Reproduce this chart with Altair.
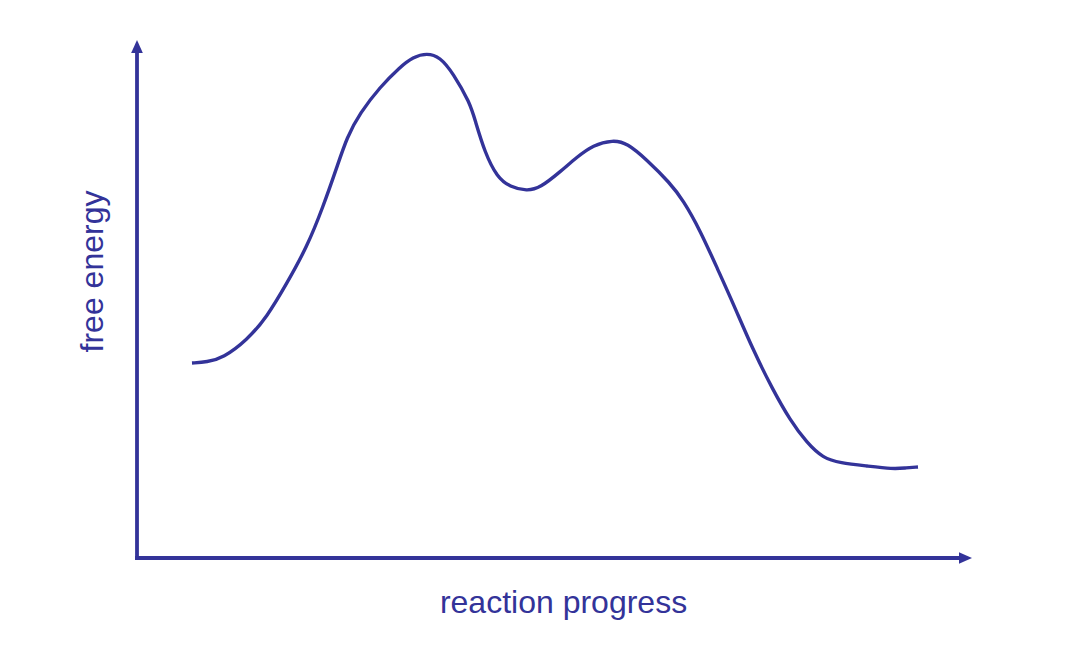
import altair as alt
import pandas as pd

# Curve (units: progress along x, energy along y)
progress = [55, 70, 86, 110, 130, 150, 170, 186, 200, 210, 223, 243, 263, 276, 290, 303, 316,
            333, 338, 348, 360, 373, 390, 403, 423, 440, 456, 476, 490, 510, 533, 546,
            563, 581, 596, 616, 636, 653, 670, 686, 703, 730, 756, 768, 781]
energy = [195, 196, 200, 218, 241, 275, 311, 351, 391, 421, 445, 471, 491, 501, 505, 501, 485,
          455, 438, 405, 381, 371, 367, 370, 386, 401, 413, 418, 415, 398, 375, 358,
          328, 288, 255, 208, 168, 138, 115, 100, 95, 92, 89, 90, 91]

x_label = "reaction progress"
y_label = "free energy"

X_MAX = 835
Y_MAX = 518
COLOR = "#333399"
FONT = "Liberation Sans"

curve = pd.DataFrame({"progress": progress, "energy": energy})
xs = alt.Scale(domain=[0, X_MAX], nice=False, zero=False)
ys = alt.Scale(domain=[0, Y_MAX], nice=False, zero=False)

line = alt.Chart(curve).mark_line(
    color=COLOR, strokeWidth=3.4, interpolate="basis"
).encode(
    x=alt.X("progress:Q", scale=xs, axis=None),
    y=alt.Y("energy:Q", scale=ys, axis=None),
)

axes_df = pd.DataFrame({
    "x": [0, 0], "y": [0, 0], "x2": [0, X_MAX - 12], "y2": [Y_MAX - 13, 0]
})
axes = alt.Chart(axes_df).mark_rule(color=COLOR, strokeWidth=3.8, strokeCap="square").encode(
    x=alt.X("x:Q", scale=xs, axis=None),
    y=alt.Y("y:Q", scale=ys, axis=None),
    x2="x2:Q",
    y2="y2:Q",
)

up_df = pd.DataFrame({"x": [0], "y": [Y_MAX - 6.5]})
right_df = pd.DataFrame({"x": [X_MAX - 6.5], "y": [0]})

arrow_up = alt.Chart(up_df).mark_point(
    shape="M0,-1L0.9,1L-0.9,1Z", filled=True, size=169, color=COLOR, opacity=1, strokeWidth=0
).encode(
    x=alt.X("x:Q", scale=xs, axis=None),
    y=alt.Y("y:Q", scale=ys, axis=None),
)
arrow_right = alt.Chart(right_df).mark_point(
    shape="M1,0L-1,-0.9L-1,0.9Z", filled=True, size=169, color=COLOR, opacity=1, strokeWidth=0
).encode(
    x=alt.X("x:Q", scale=xs, axis=None),
    y=alt.Y("y:Q", scale=ys, axis=None),
)

xlab = alt.Chart(pd.DataFrame({"t": [x_label]})).mark_text(
    font=FONT, fontSize=32, color=COLOR, align="center", baseline="alphabetic"
).encode(text="t:N", x=alt.value(426.5), y=alt.value(573))

ylab = alt.Chart(pd.DataFrame({"t": [y_label]})).mark_text(
    font=FONT, fontSize=32, color=COLOR, align="center", baseline="alphabetic", angle=270
).encode(text="t:N", x=alt.value(-34), y=alt.value(231.5))

chart = alt.layer(axes, arrow_up, arrow_right, line, xlab, ylab).properties(
    width=X_MAX,
    height=Y_MAX,
    padding={"left": 129, "top": 32, "right": 30, "bottom": 80},
    autosize=alt.AutoSizeParams(type="none"),
).configure_view(stroke=None)

chart.save("out.html", embed_options={"renderer": "svg", "actions": False})
